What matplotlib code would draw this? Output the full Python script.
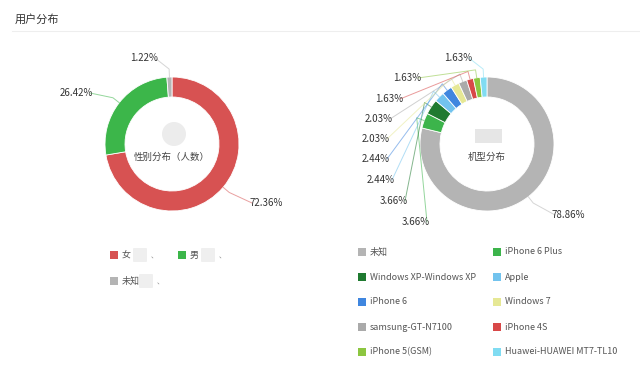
import numpy as np
import matplotlib
matplotlib.use("Agg")
import matplotlib.pyplot as plt
from matplotlib.patches import FancyBboxPatch, Rectangle, Ellipse

plt.rcParams['font.family'] = ['Noto Sans CJK SC', 'DejaVu Sans']

# 性别分布
sex_names = ['女', '男', '未知']
sex_values = [72.36, 26.42, 1.22]
sex_colors = ['#d75252', '#3cb64a', '#b4b4b4']

# 机型分布
model_names = ['未知', 'iPhone 6 Plus', 'Windows XP-Windows XP', 'Apple', 'iPhone 6',
               'Windows 7', 'samsung-GT-N7100', 'iPhone 4S', 'iPhone 5(GSM)',
               'Huawei-HUAWEI MT7-TL10']
model_values = [78.86, 3.66, 3.66, 2.44, 2.44, 2.03, 2.03, 1.63, 1.63, 1.63]
model_colors = ['#b4b4b4', '#3cb44b', '#1f7a30', '#72c3ee', '#3f86df',
                '#e6e895', '#aaaaaa', '#d84848', '#8cc640', '#80dcf2']

H = 377
fig = plt.figure(figsize=(6.4, 3.77), dpi=100)
ax = fig.add_axes([0, 0, 1, 1])
ax.set_xlim(0, 640)
ax.set_ylim(0, H)
ax.set_aspect('equal')
ax.axis('off')

def Y(y):
    return H - y

# header
ax.text(15, Y(19), '用户分布', fontsize=8, color='#333333', va='center', ha='left')
ax.plot([12, 640], [Y(31), Y(31)], color='#eeeeee', lw=0.8)

R, W = 67, 20

def donut(cx, cy, vals, cols, label_pos, title):
    ax.pie(vals, colors=cols, startangle=90, counterclock=False, radius=R,
           center=(cx, Y(cy)), wedgeprops=dict(width=W, edgecolor='white', linewidth=0.6),
           frame=True)
    tot = sum(vals)
    start = 90.0
    for v, c, (lx, ly, ha) in zip(vals, cols, label_pos):
        ang = np.radians(start - v / tot * 180)
        start -= v / tot * 360
        x0 = cx + R * np.cos(ang)
        y0 = Y(cy) + R * np.sin(ang)
        x1 = cx + (R + 8) * np.cos(ang)
        y1 = Y(cy) + (R + 8) * np.sin(ang)
        ex = lx - 3 if ha == 'right' else lx + 3
        ax.plot([x0, x1, ex], [y0, y1, Y(ly)], color=c, lw=0.7, alpha=0.55)
        ax.text(lx, Y(ly), '%.2f%%' % v, fontsize=7, color='#333333',
                ha=ha, va='center')
    ax.text(cx, Y(157), title, fontsize=6.8, color='#444444', ha='center', va='center')

# left donut
donut(172, 144, sex_values, sex_colors,
      [(249, 203, 'left'), (93, 93, 'right'), (158, 58, 'right')],
      '性别分布（人数）')
ax.add_patch(Ellipse((174, Y(134)), 24, 24, fc='#ececec', ec='none'))

# right donut
donut(487, 144, model_values, model_colors,
      [(552, 215, 'left'), (430, 222, 'right'), (408, 201, 'right'),
       (395, 180, 'right'), (390, 159, 'right'), (390, 139, 'right'),
       (393, 119, 'right'), (403, 99, 'right'), (421, 78, 'right'),
       (472, 58, 'right')],
      '机型分布')
ax.add_patch(Rectangle((475, Y(143)), 27, 14, fc='#e6e6e6', ec='none'))

# left legend
sex_leg = [(110, 255), (178, 255), (110, 281)]
for (x, y), n, c in zip(sex_leg, sex_names, sex_colors):
    ax.add_patch(Rectangle((x, Y(y) - 4), 8, 8, fc=c, ec='none'))
    ax.text(x + 12, Y(y), n, fontsize=6.5, color='#555555', va='center', ha='left')
    blur_x = x + 24 if len(n) == 1 else x + 30
    ax.add_patch(FancyBboxPatch((blur_x, Y(y) - 6), 12, 12, boxstyle='round,pad=1',
                                fc='#efefef', ec='none'))
    ax.text(blur_x + 17, Y(y) - 1, '、', fontsize=5, color='#888888', va='center')

# right legend (2 columns, row-major)
for i, (n, c) in enumerate(zip(model_names, model_colors)):
    col, row = i % 2, i // 2
    x = 358 if col == 0 else 493
    y = 252 + row * 25
    ax.add_patch(Rectangle((x, Y(y) - 4), 8, 8, fc=c, ec='none'))
    ax.text(x + 12, Y(y), n, fontsize=6.5, color='#555555', va='center', ha='left')

ax.set_xlim(0, 640)
ax.set_ylim(0, H)
fig.savefig('out.png', dpi=100, facecolor='white')
